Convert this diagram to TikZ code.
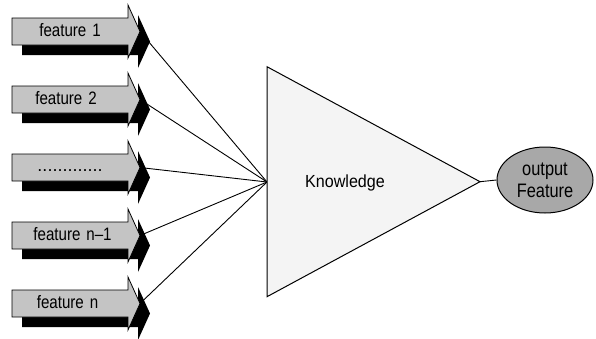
\documentclass[tikz,border=0pt]{standalone}
\usepackage{fontspec}
\setmainfont{Liberation Sans}
\newfontfamily\labfont[FakeStretch=0.84, WordSpace=1.4]{Liberation Sans}
\newfontfamily\knowfont[FakeStretch=0.92]{Liberation Sans}
\usetikzlibrary{shapes.geometric}
\definecolor{arrowgray}{HTML}{C4C4C4}
\definecolor{ellgray}{HTML}{A8A8A8}
\definecolor{trifill}{HTML}{F4F4F4}
\begin{document}
\begin{tikzpicture}[x=1pt,y=-1pt,
  lbl/.style={font=\labfont\fontsize{18}{21}\selectfont, inner sep=0pt, anchor=base},
  link/.style={draw=black, line width=0.9pt},
  frontarrow/.style={draw=black, fill=arrowgray, line width=0.8pt, line join=miter},
  shadowarrow/.style={fill=black},
  knowbox/.style={draw=black, fill=trifill, line width=1pt, line join=miter},
  outnode/.style={ellipse, draw=black, fill=ellgray, line width=1pt, minimum width=96pt, minimum height=66pt, inner sep=0pt, align=center, font=\labfont\fontsize{19.5}{22.3}\selectfont}]
\useasboundingbox (0,0) rectangle (596,338);
% connectors' end points
\coordinate (kin) at (267,182);
\coordinate (kout) at (480,181.7);
\foreach \i in {1,...,5}{
  \pgfmathsetmacro\c{31.5+68*(\i-1)}
  \coordinate (t\i) at (140,\c);
}
% connectors (behind the arrows)
\foreach \i in {1,...,5}{
  \draw[link] (t\i) -- (kin);
}
% feature arrows
\foreach \i in {1,...,5}{
  \pgfmathsetmacro\c{31.5+68*(\i-1)}
  \fill[shadowarrow] (22,\c-3.5) -- (138,\c-3.5) -- (138,\c-16.5) -- (150,\c+10) -- (138,\c+36.5) -- (138,\c+23.5) -- (22,\c+23.5) -- cycle;
  \draw[frontarrow] (12,\c-13.5) -- (128,\c-13.5) -- (128,\c-26.5) -- (140,\c) -- (128,\c+26.5) -- (128,\c+13.5) -- (12,\c+13.5) -- cycle;
}
\node[lbl] (f1) at (70,36.7) {feature 1};
\node[lbl] (f2) at (66,104.7) {feature 2};
\node[lbl, font=\fontsize{18}{21}\selectfont] (f3) at (70,171.5) {.............};
\node[lbl] (f4) at (72.5,240.7) {feature n–1};
\node[lbl] (f5) at (67.5,308.7) {feature n};
% knowledge triangle
\draw[knowbox] (267,66.7) -- (kout) -- (267,296.7) -- cycle;
\node[lbl, font=\knowfont\fontsize{17.5}{21}\selectfont] (k) at (345,187.5) {Knowledge};
% output
\node[outnode] (out) at (545,180) {output\\Feature};
\draw[link] (kout) -- (out.west);
\end{tikzpicture}
\end{document}
